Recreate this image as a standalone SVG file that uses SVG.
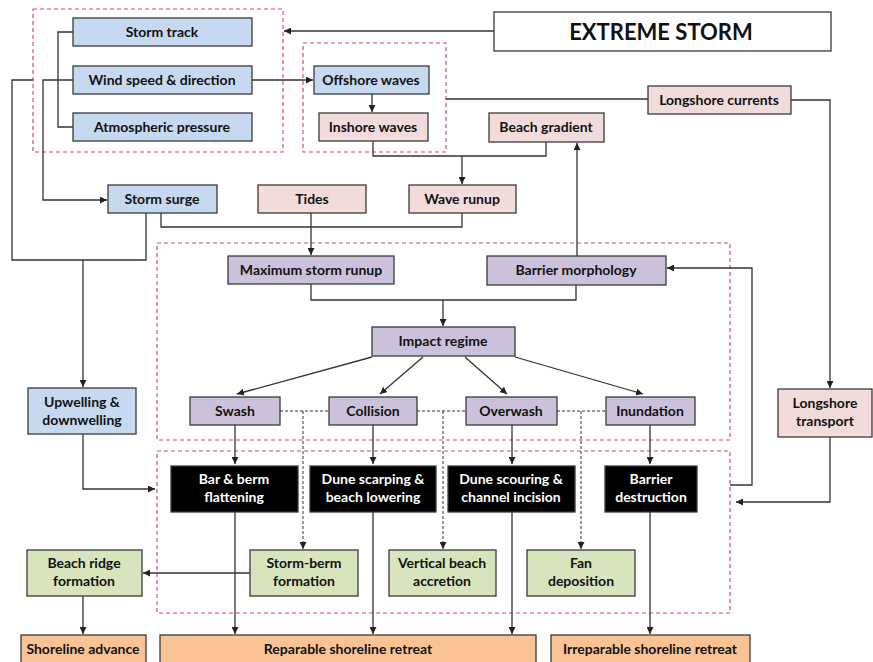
<svg xmlns="http://www.w3.org/2000/svg" width="873" height="662" viewBox="0 0 873 662">
<defs>
<marker id="ah" viewBox="0 0 10 10" refX="10" refY="5" markerWidth="7" markerHeight="7" markerUnits="userSpaceOnUse" orient="auto"><path d="M0,0 L10,5 L0,10 z" fill="#222"/></marker>
<style>
.b rect{stroke:#3a3a3a;stroke-width:1.3}
.blue{fill:#c6d9f0}.pink{fill:#f2dcdb}.purple{fill:#ccc1da}.green{fill:#d8e4bc}.orange{fill:#fac396}.black{fill:#000}.white{fill:#fff}
text{font-family:Lato,"Liberation Sans",sans-serif;font-weight:bold;font-size:14px;fill:#111;text-anchor:middle}
.w{fill:#fff}
.grp{fill:none;stroke:#d9505e;stroke-width:1.2;stroke-dasharray:4 3}
.c path{fill:none;stroke:#333;stroke-width:1.3}
.c .a{marker-end:url(#ah)}
.c .d{stroke-dasharray:3 2;stroke-width:1}
</style>
</defs>
<rect width="873" height="662" fill="#fff"/>
<g id="groups">
<rect class="grp" x="33" y="9" width="250" height="143"/>
<rect class="grp" x="303" y="43" width="143" height="109"/>
<rect class="grp" x="157" y="243" width="573" height="197"/>
<rect class="grp" x="157" y="451" width="573" height="162"/>
</g>
<g class="c" id="connectors">
<path class="a" d="M494,31 H284"/>
<path d="M73,32 H58 V127 H73"/>
<path class="a" d="M73,80 H43 V200 H107"/>
<path d="M33,80 H12 V260 H146 V213"/>
<path class="a" d="M83,260 V387"/>
<path class="a" d="M252,80 H313"/>
<path class="a" d="M372,94 V112"/>
<path d="M161,213 V227 H462 V213"/>
<path class="a" d="M311,213 V255"/>
<path d="M373,141 V156 H546 V142"/>
<path class="a" d="M462,156 V184"/>
<path class="a" d="M577,256 V143"/>
<path d="M446,99 H648"/>
<path class="a" d="M791,100 H830 V388"/>
<path d="M311,284 V300 H576 V285"/>
<path class="a" d="M443,300 V326"/>
<path class="a" d="M372,357 L237,394"/>
<path class="a" d="M423,357 L380,394"/>
<path class="a" d="M465,357 L507,394"/>
<path class="a" d="M515,357 L643,394"/>
<path class="d" d="M280,411 H329"/>
<path class="d" d="M417,411 H466"/>
<path class="d" d="M557,411 H606"/>
<path class="a d" d="M303,411 V549"/>
<path class="a d" d="M443,411 V549"/>
<path class="a d" d="M581,411 V549"/>
<path class="a" d="M235,425 V464"/>
<path class="a" d="M373,425 V464"/>
<path class="a" d="M512,425 V464"/>
<path class="a" d="M650,425 V464"/>
<path class="a" d="M235,512 V634"/>
<path class="a" d="M373,512 V634"/>
<path class="a" d="M512,512 V634"/>
<path class="a" d="M650,512 V634"/>
<path class="a" d="M250,573 H143"/>
<path class="a" d="M83,596 V634"/>
<path class="a" d="M83,434 V489 H155"/>
<path class="a" d="M730,485 H752 V268 H667"/>
<path class="a" d="M830,437 V502 H736"/>
</g>
<g class="b">
<g id="extreme-storm"><rect class="white" x="494" y="12" width="337" height="39"/><text x="661" y="40" style="font-size:22px">EXTREME STORM</text></g>
<g id="storm-track"><rect class="blue" x="73" y="18" width="179" height="28"/><text x="162" y="37">Storm track</text></g>
<g id="wind-speed"><rect class="blue" x="73" y="66" width="179" height="28"/><text x="162" y="85">Wind speed &amp; direction</text></g>
<g id="atmospheric-pressure"><rect class="blue" x="73" y="113" width="179" height="28"/><text x="162" y="132">Atmospheric pressure</text></g>
<g id="offshore-waves"><rect class="blue" x="314" y="66" width="115" height="28"/><text x="371" y="85">Offshore waves</text></g>
<g id="inshore-waves"><rect class="pink" x="319" y="113" width="109" height="28"/><text x="373" y="132">Inshore waves</text></g>
<g id="beach-gradient"><rect class="pink" x="489" y="113" width="115" height="29"/><text x="546" y="132">Beach gradient</text></g>
<g id="longshore-currents"><rect class="pink" x="648" y="86" width="143" height="28"/><text x="719" y="105">Longshore currents</text></g>
<g id="storm-surge"><rect class="blue" x="108" y="185" width="109" height="28"/><text x="162" y="204">Storm surge</text></g>
<g id="tides"><rect class="pink" x="258" y="185" width="108" height="28"/><text x="312" y="204">Tides</text></g>
<g id="wave-runup"><rect class="pink" x="409" y="185" width="107" height="28"/><text x="462" y="204">Wave runup</text></g>
<g id="max-storm-runup"><rect class="purple" x="228" y="256" width="166" height="28"/><text x="311" y="275">Maximum storm runup</text></g>
<g id="barrier-morphology"><rect class="purple" x="487" y="256" width="179" height="29"/><text x="576" y="275">Barrier morphology</text></g>
<g id="impact-regime"><rect class="purple" x="372" y="327" width="143" height="29"/><text x="443" y="346">Impact regime</text></g>
<g id="swash"><rect class="purple" x="190" y="397" width="90" height="28"/><text x="235" y="416">Swash</text></g>
<g id="collision"><rect class="purple" x="329" y="397" width="88" height="28"/><text x="373" y="416">Collision</text></g>
<g id="overwash"><rect class="purple" x="466" y="397" width="91" height="28"/><text x="511" y="416">Overwash</text></g>
<g id="inundation"><rect class="purple" x="606" y="397" width="89" height="28"/><text x="650" y="416">Inundation</text></g>
<g id="upwelling"><rect class="blue" x="28" y="388" width="108" height="46"/><text x="82" y="407">Upwelling &amp;</text><text x="82" y="425">downwelling</text></g>
<g id="longshore-transport"><rect class="pink" x="778" y="389" width="94" height="48"/><text x="825" y="408">Longshore</text><text x="825" y="426">transport</text></g>
<g id="bar-berm"><rect class="black" x="171" y="466" width="127" height="46"/><text class="w" x="234" y="484">Bar &amp; berm</text><text class="w" x="234" y="502">flattening</text></g>
<g id="dune-scarping"><rect class="black" x="310" y="466" width="126" height="46"/><text class="w" x="373" y="484">Dune scarping &amp;</text><text class="w" x="373" y="502">beach lowering</text></g>
<g id="dune-scouring"><rect class="black" x="448" y="466" width="127" height="46"/><text class="w" x="511" y="484">Dune scouring &amp;</text><text class="w" x="511" y="502">channel incision</text></g>
<g id="barrier-destruction"><rect class="black" x="605" y="466" width="92" height="46"/><text class="w" x="651" y="484">Barrier</text><text class="w" x="651" y="502">destruction</text></g>
<g id="beach-ridge"><rect class="green" x="27" y="550" width="115" height="46"/><text x="84" y="568">Beach ridge</text><text x="84" y="586">formation</text></g>
<g id="storm-berm"><rect class="green" x="250" y="550" width="108" height="46"/><text x="304" y="568">Storm-berm</text><text x="304" y="586">formation</text></g>
<g id="vertical-beach"><rect class="green" x="389" y="550" width="107" height="46"/><text x="442" y="568">Vertical beach</text><text x="442" y="586">accretion</text></g>
<g id="fan-deposition"><rect class="green" x="527" y="550" width="108" height="46"/><text x="581" y="568">Fan</text><text x="581" y="586">deposition</text></g>
<g id="shoreline-advance"><rect class="orange" x="21" y="635" width="125" height="30"/><text x="83" y="654">Shoreline advance</text></g>
<g id="reparable"><rect class="orange" x="160" y="635" width="376" height="30"/><text x="348" y="654">Reparable shoreline retreat</text></g>
<g id="irreparable"><rect class="orange" x="551" y="635" width="199" height="30"/><text x="650" y="654">Irreparable shoreline retreat</text></g>
</g>
</svg>
